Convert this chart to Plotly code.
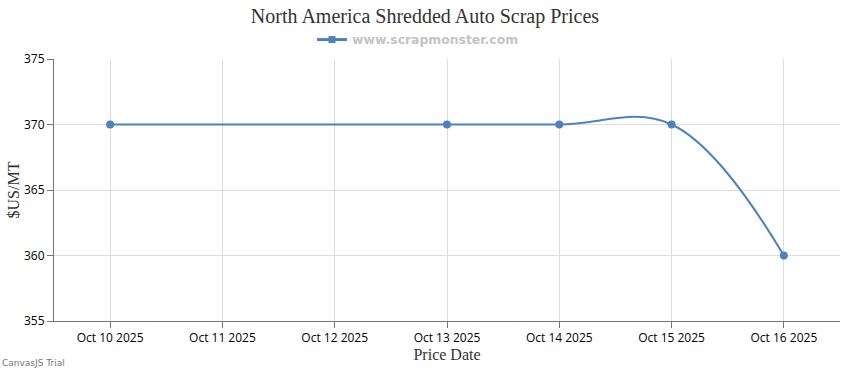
import plotly.graph_objects as go

dates = ["2025-10-10", "2025-10-13", "2025-10-14", "2025-10-15", "2025-10-16"]
prices = [370, 370, 370, 370, 360]
tick_dates = ["2025-10-10", "2025-10-11", "2025-10-12", "2025-10-13",
              "2025-10-14", "2025-10-15", "2025-10-16"]
tick_labels = ["Oct 10 2025", "Oct 11 2025", "Oct 12 2025", "Oct 13 2025",
               "Oct 14 2025", "Oct 15 2025", "Oct 16 2025"]
y_ticks = [355, 360, 365, 370, 375]

color = "#4F81BC"

fig = go.Figure()
fig.add_trace(go.Scatter(
    x=dates, y=prices, mode="lines+markers",
    name="www.scrapmonster.com", showlegend=False,
    line=dict(color=color, width=2, shape="spline", smoothing=1.1),
    marker=dict(color=color, size=8, symbol="circle"),
))
# legend entry (CanvasJS shows a line with a square marker)
fig.add_trace(go.Scatter(
    x=[None], y=[None], mode="lines+markers",
    name="www.scrapmonster.com",
    line=dict(color=color, width=3),
    marker=dict(color=color, size=7, symbol="square"),
))

fig.update_layout(
    width=850, height=370,
    margin=dict(l=54, r=10, t=59, b=49),
    paper_bgcolor="white", plot_bgcolor="white",
    title=dict(text="North America Shredded Auto Scrap Prices",
               font=dict(family="Liberation Serif", size=20, color="#333333"),
               x=0.5, xanchor="center", yref="container", y=1 - 16 / 370,
               yanchor="middle", automargin=False),
    showlegend=True,
    legend=dict(orientation="h", x=0.5 - 29 / 786, xanchor="center",
                yref="container", y=1 - 40 / 370, yanchor="middle",
                font=dict(family="DejaVu Sans", size=12.4, color="#c4c4c4", weight="bold"),
                itemwidth=30),
    xaxis=dict(type="date", range=["2025-10-09 12:00", "2025-10-16 12:00"],
               tickvals=tick_dates, ticktext=tick_labels, automargin=False,
               showgrid=True, gridcolor="#dddddd", gridwidth=1,
               showline=True, linecolor="#777777", linewidth=1,
               ticks="outside", tickcolor="#777777", ticklen=6,
               tickfont=dict(family="Open Sans", size=12, color="#000000"),
               title=dict(text="Price Date", standoff=0,
                          font=dict(family="Liberation Serif", size=16, color="#333333")),
               zeroline=False),
    yaxis=dict(range=[355, 375], tickvals=y_ticks, automargin=False,
               showgrid=True, gridcolor="#dddddd", gridwidth=1,
               showline=True, linecolor="#777777", linewidth=1,
               ticks="outside", tickcolor="#777777", ticklen=6,
               tickfont=dict(family="Open Sans", size=12, color="#000000"),
               title=dict(text="$US/MT", standoff=0,
                          font=dict(family="Liberation Serif", size=16, color="#333333")),
               zeroline=False),
)

fig.add_annotation(text="CanvasJS Trial", xref="paper", yref="paper",
                   x=-54 / 786, y=-(363 - 321) / 262, xanchor="left", yanchor="middle",
                   showarrow=False,
                   font=dict(family="DejaVu Sans", size=9, color="#777777"))

fig.write_html("out.html", config={"displayModeBar": False},
               post_script="document.body.style.margin='0';document.body.style.overflow='hidden';")
